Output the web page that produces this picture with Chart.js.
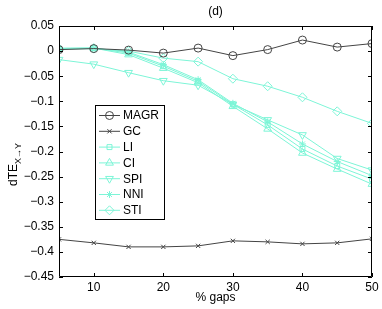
<!DOCTYPE html>
<html lang="en">
<head>
    <meta charset="UTF-8">
    <title>dTE vs % gaps (d)</title>
    <script src="https://cdn.jsdelivr.net/npm/chart.js"></script>
    <style>
        html, body {
            margin: 0;
            padding: 0;
            background: #fff;
        }
        #wrap {
            width: 382px;
            height: 309px;
        }
    </style>
</head>
<body>
    <div id="wrap">
        <canvas id="lineChart"></canvas>
    </div>

    <script>
        // valori
        var gaps = [5, 10, 15, 20, 25, 30, 35, 40, 45, 50];
        var xTicks = [10, 20, 30, 40, 50];

        var magr = [0.003, 0.005, 0.002, -0.004, 0.006, -0.009, 0.003, 0.022, 0.008, 0.015];
        var gc   = [-0.375, -0.382, -0.390, -0.390, -0.388, -0.378, -0.380, -0.384, -0.382, -0.374];
        var li   = [0.005, 0.006, -0.004, -0.030, -0.060, -0.106, -0.147, -0.195, -0.229, -0.255];
        var ci   = [0.006, 0.006, -0.007, -0.034, -0.063, -0.110, -0.155, -0.203, -0.235, -0.265];
        var spi  = [-0.017, -0.026, -0.043, -0.059, -0.068, -0.106, -0.137, -0.167, -0.214, -0.237];
        var nni  = [0.005, 0.006, -0.002, -0.027, -0.057, -0.104, -0.141, -0.185, -0.220, -0.248];
        var sti  = [0.004, 0.005, 0.000, -0.014, -0.021, -0.055, -0.070, -0.092, -0.120, -0.144];

        var FONT = "'Liberation Sans', Arial, Helvetica, sans-serif";
        var DARK = '#444';
        var CYAN = 'rgb(125, 245, 215)';

        function pts(values) {
            return values.map(function (v, i) { return { x: gaps[i], y: v }; });
        }

        function serie(label, values, color, style, radius, rotation) {
            return {
                label: label,
                data: pts(values),
                borderColor: color,
                borderWidth: 1,
                pointStyle: style,
                pointRadius: radius,
                pointRotation: rotation || 0,
                pointBorderColor: color,
                pointBackgroundColor: 'rgba(0,0,0,0)',
                pointBorderWidth: 1,
                fill: false,
                tension: 0
            };
        }

        var datasets = [
            serie('MAGR', magr, DARK, 'circle', 4),
            serie('GC', gc, DARK, 'crossRot', 3),
            serie('LI', li, CYAN, 'rect', 3.5),
            serie('CI', ci, CYAN, 'triangle', 4.5),
            serie('SPI', spi, CYAN, 'triangle', 4.5, 180),
            serie('NNI', nni, CYAN, 'star', 3.5),
            serie('STI', sti, CYAN, 'rectRot', 4.5)
        ];

        function fmtY(v) {
            var r = Math.round(v * 100) / 100;
            if (Math.abs(r) < 1e-9) return '0';
            return String(r).replace('-', '\u2212');
        }

        // box, tacche interne, titoli e legenda stile MATLAB
        var matlabFrame = {
            id: 'matlabFrame',
            afterDraw: function (chart) {
                var ctx = chart.ctx;
                var a = chart.chartArea;
                var xs = chart.scales.x, ys = chart.scales.y;
                var tl = 4;
                ctx.save();
                ctx.strokeStyle = '#000';
                ctx.lineWidth = 1;
                ctx.beginPath();
                ctx.rect(a.left + 0.5, a.top + 0.5, a.right - a.left - 1, a.bottom - a.top - 1);
                ctx.stroke();

                ctx.beginPath();
                xTicks.forEach(function (t) {
                    var px = Math.round(xs.getPixelForValue(t)) + 0.5;
                    ctx.moveTo(px, a.bottom);
                    ctx.lineTo(px, a.bottom - tl);
                    ctx.moveTo(px, a.top);
                    ctx.lineTo(px, a.top + tl);
                });
                ys.ticks.forEach(function (t) {
                    var py = Math.round(ys.getPixelForValue(t.value)) + 0.5;
                    ctx.moveTo(a.left, py);
                    ctx.lineTo(a.left + tl, py);
                    ctx.moveTo(a.right, py);
                    ctx.lineTo(a.right - tl, py);
                });
                ctx.stroke();

                // titolo
                ctx.fillStyle = '#000';
                ctx.font = '12px ' + FONT;
                ctx.textAlign = 'center';
                ctx.textBaseline = 'middle';
                ctx.fillText('(d)', (a.left + a.right) / 2, 12);

                // titolo asse x
                ctx.fillText('% gaps', (a.left + a.right) / 2, 298);

                // titolo asse y con pedice
                ctx.save();
                ctx.translate(14, 186);
                ctx.rotate(-Math.PI / 2);
                ctx.textAlign = 'left';
                ctx.textBaseline = 'middle';
                ctx.font = '12px ' + FONT;
                ctx.fillText('dTE', 0, 0);
                var w = ctx.measureText('dTE').width;
                ctx.font = '9px ' + FONT;
                ctx.fillText('X\u2192Y', w, 5);
                ctx.restore();

                // legenda
                var lx = 95, ly = 105, lw = 69, lh = 114;
                ctx.fillStyle = '#fff';
                ctx.fillRect(lx, ly, lw, lh);
                ctx.strokeStyle = '#000';
                ctx.lineWidth = 1;
                ctx.strokeRect(lx + 0.5, ly + 0.5, lw, lh);
                chart.data.datasets.forEach(function (ds, i) {
                    var cy = 115.5 + i * 15.8;
                    ctx.strokeStyle = ds.borderColor;
                    ctx.lineWidth = 1;
                    ctx.beginPath();
                    ctx.moveTo(lx + 4, cy);
                    ctx.lineTo(lx + 25, cy);
                    ctx.stroke();
                    ctx.fillStyle = 'rgba(0,0,0,0)';
                    Chart.helpers.drawPoint(ctx, {
                        pointStyle: ds.pointStyle,
                        radius: ds.pointRadius,
                        rotation: ds.pointRotation,
                        borderWidth: 1
                    }, lx + 14.5, cy);
                    ctx.fillStyle = '#000';
                    ctx.font = '12px ' + FONT;
                    ctx.textAlign = 'left';
                    ctx.textBaseline = 'middle';
                    ctx.fillText(ds.label, lx + 28, cy + 0.5);
                });
                ctx.restore();
            }
        };

        var ctx = document.getElementById('lineChart').getContext('2d');
        var myChart = new Chart(ctx, {
            type: 'line',
            data: { datasets: datasets },
            options: {
                responsive: true,
                maintainAspectRatio: false,
                animation: false,
                layout: { padding: { left: 0, top: 26, right: 10, bottom: 0 } },
                plugins: {
                    legend: { display: false },
                    tooltip: { enabled: false }
                },
                scales: {
                    x: {
                        type: 'linear',
                        min: 5,
                        max: 50,
                        afterBuildTicks: function (axis) {
                            axis.ticks = xTicks.map(function (v) { return { value: v }; });
                        },
                        afterFit: function (axis) { axis.height = 32; },
                        grid: { display: false, drawTicks: false },
                        border: { display: false },
                        ticks: {
                            padding: 3,
                            color: '#000',
                            font: { family: FONT, size: 12 },
                            maxRotation: 0,
                            autoSkip: false
                        }
                    },
                    y: {
                        min: -0.45,
                        max: 0.05,
                        afterFit: function (axis) { axis.width = 59; },
                        grid: { display: false, drawTicks: false },
                        border: { display: false },
                        ticks: {
                            stepSize: 0.05,
                            padding: 5,
                            color: '#000',
                            font: { family: FONT, size: 12 },
                            callback: function (v) { return fmtY(v); }
                        }
                    }
                }
            },
            plugins: [matlabFrame]
        });
    </script>
</body>
</html>
